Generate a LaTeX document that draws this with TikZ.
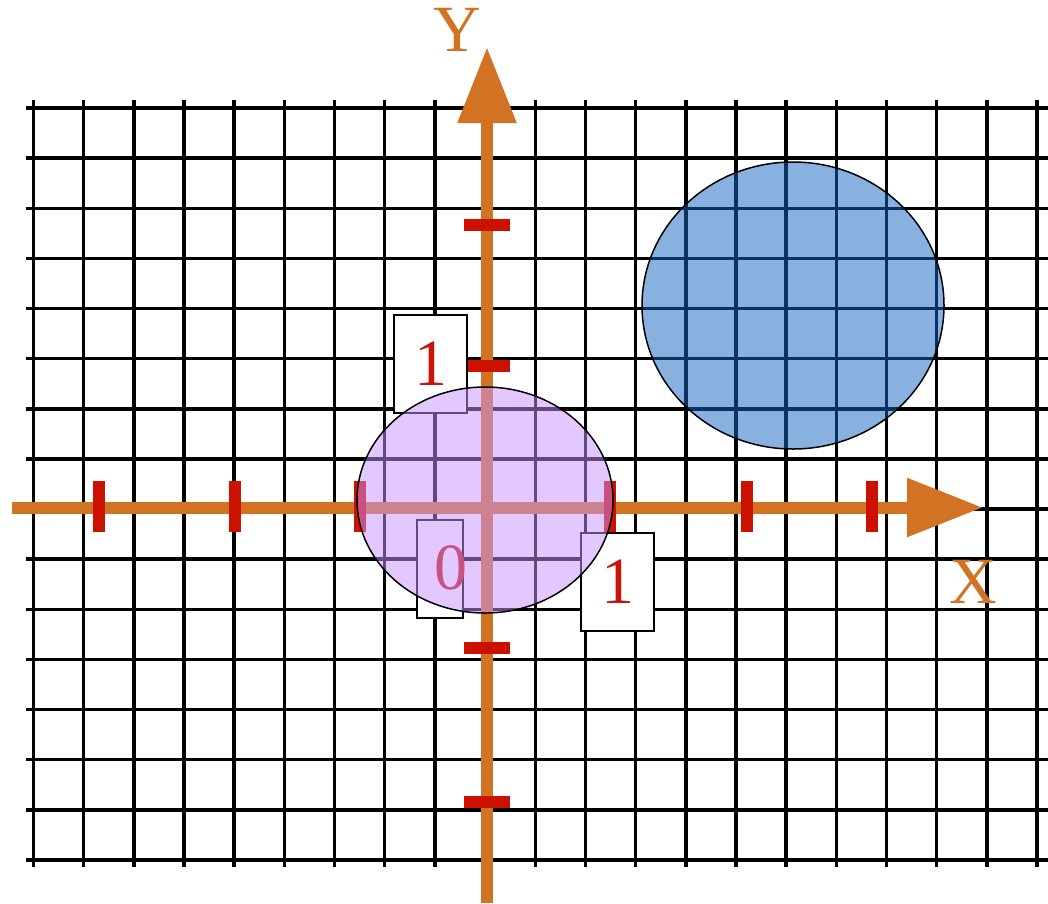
\documentclass[tikz,border=0pt]{standalone}
\usepackage{fontspec}
\setmainfont{Liberation Serif}
\usetikzlibrary{arrows.meta,positioning}

\definecolor{axisorange}{RGB}{210,115,35}
\definecolor{tickred}{RGB}{204,17,0}
\definecolor{numred}{RGB}{200,20,10}
\definecolor{discblue}{RGB}{20,100,195}
\definecolor{discviolet}{RGB}{200,145,255}

\begin{document}
\begin{tikzpicture}[
            x=1pt, y=-1pt,
            >={Triangle[length=76pt,width=56pt]},
            gridline/.style={line width=3.5pt, black},
            axisline/.style={line width=12pt, axisorange, ->},
            tickmark/.style={line width=12pt, tickred},
            numbox/.style={draw, fill=white, line width=1.5pt, inner sep=0pt, minimum height=98pt},
            numtext/.style={inner sep=0pt, font=\fontsize{66}{70}\selectfont, text=numred},
            axislabel/.style={inner sep=0pt, font=\fontsize{66}{70}\selectfont, text=axisorange},
            disc/.style={draw=black, line width=1.5pt, fill opacity=0.5}
        ]
            \useasboundingbox[fill=white] (0,0) rectangle (1048,903);

            % squared paper
            \foreach \i in {0,...,20}
                \draw[gridline] ({33.5+50.175*\i},100) -- ({33.5+50.175*\i},867);
            \foreach \j in {0,...,15}
                \draw[gridline] (26,{108+50.13*\j}) -- (1048,{108+50.13*\j});

            % axes
            \coordinate (xstart) at (12,507.5);
            \coordinate (xend) at (983,507.5);
            \coordinate (ystart) at (487,903);
            \coordinate (yend) at (487,47);
            \draw[axisline] (xstart) -- (xend);
            \draw[axisline] (ystart) -- (yend);

            \node[axislabel] (ylabel) at (457,30) {Y};
            \node[axislabel] (xlabel) at (973,582) {X};

            % unit marks
            \foreach \tx in {99,235,360,610,747,872}
                \draw[tickmark] (\tx,481) -- (\tx,532);
            \foreach \ty in {225,366,648,802}
                \draw[tickmark] (464,\ty) -- (510,\ty);

            % number boxes
            \node[numbox, numtext, minimum width=73pt] (oneY) at (430.5,364) {1};
            \node[numbox, minimum width=46pt] (zerobox) at (440,569) {};
            \node[numtext] (zero) at (451,568) {0};
            \node[numbox, numtext, minimum width=73pt] (oneX) at (617.5,582) {1};

            % discs
            \draw[disc, fill=discviolet] (485,500) ellipse [x radius=128, y radius=113];
            \draw[disc, fill=discblue] (793,305.5) ellipse [x radius=151, y radius=143.5];
        \end{tikzpicture}
\end{document}
